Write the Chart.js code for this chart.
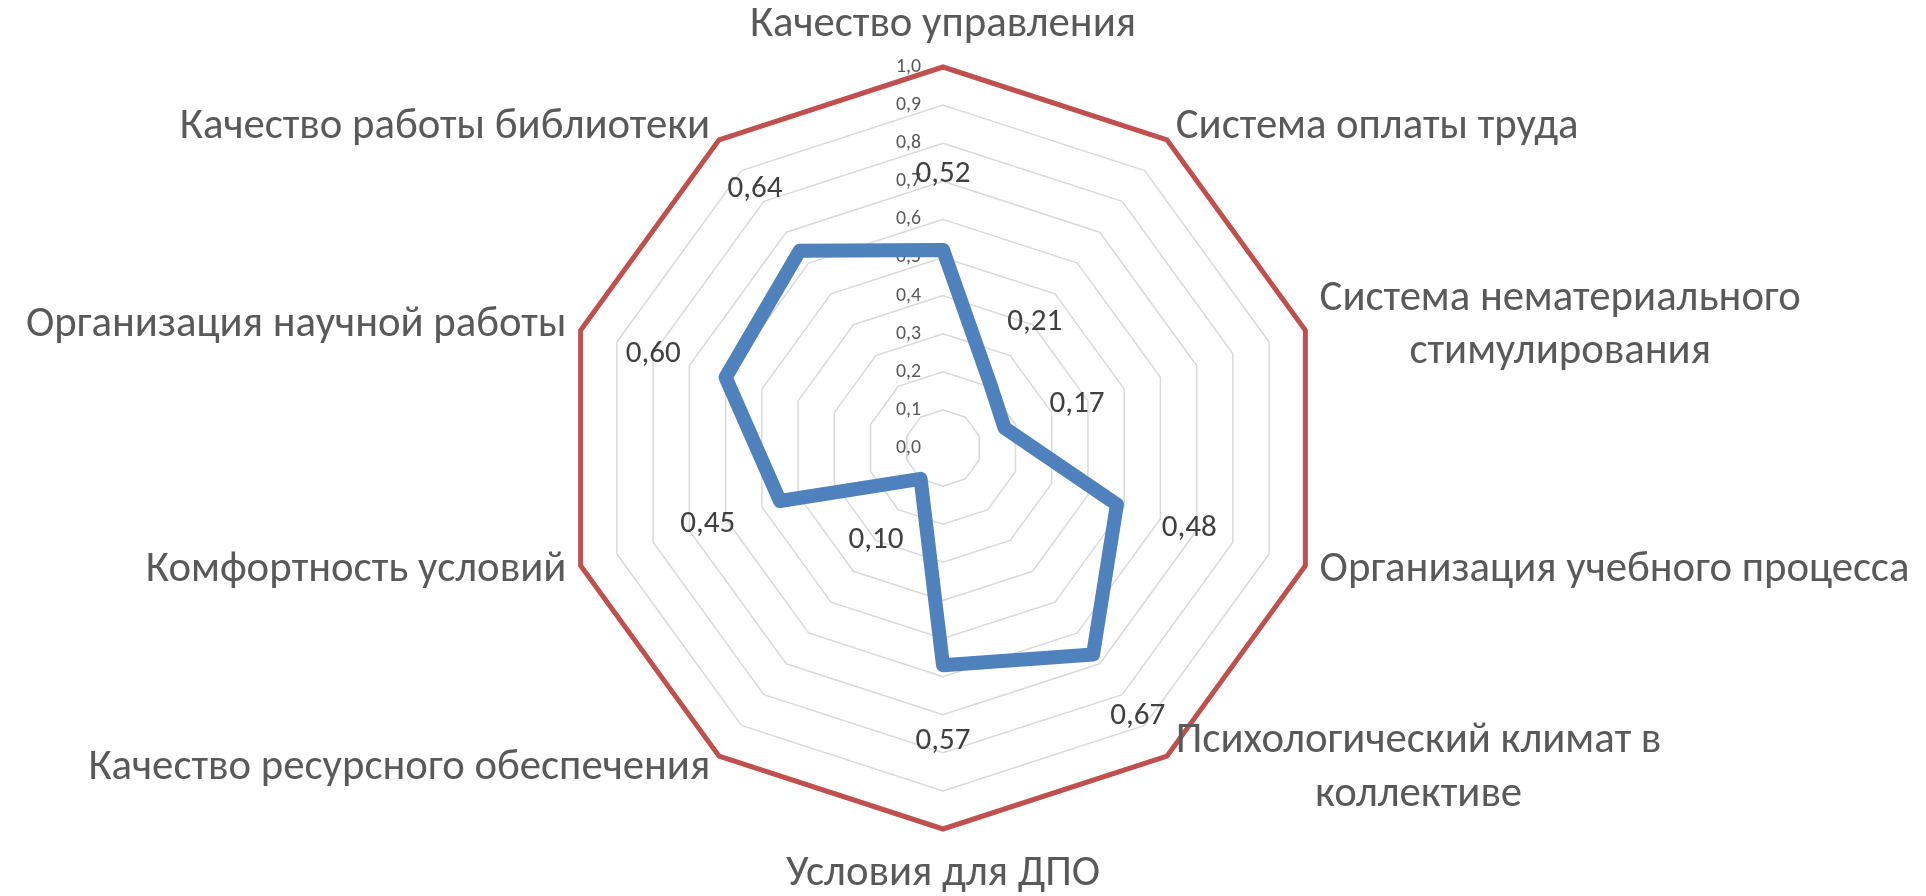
<!DOCTYPE html>
<html>
<head>
<meta charset="utf-8">
<script src="https://cdn.jsdelivr.net/npm/chart.js@4.4.1/dist/chart.umd.min.js"></script>
<style>
html,body{margin:0;padding:0;background:#fff;}
#wrap{width:1926px;height:896px;position:relative;}
canvas{display:block;}
</style>
</head>
<body>
<div id="wrap"><canvas id="c" width="1926" height="896"></canvas></div>
<script>
// ---- data ----
const categories = [
  ['Качество управления'],
  ['Система оплаты труда'],
  ['Система нематериального', 'стимулирования'],
  ['Организация учебного процесса'],
  ['Психологический климат в', 'коллективе'],
  ['Условия для ДПО'],
  ['Качество ресурсного обеспечения'],
  ['Комфортность условий'],
  ['Организация научной работы'],
  ['Качество работы библиотеки']
];
const scoreValues = [0.52, 0.21, 0.17, 0.48, 0.67, 0.57, 0.10, 0.45, 0.60, 0.64];
const maxValues   = [1, 1, 1, 1, 1, 1, 1, 1, 1, 1];
const tickValues  = [0, 0.1, 0.2, 0.3, 0.4, 0.5, 0.6, 0.7, 0.8, 0.9, 1.0];
const tickLabels  = ['0,0','0,1','0,2','0,3','0,4','0,5','0,6','0,7','0,8','0,9','1,0'];
const scoreLabels = ['0,52','0,21','0,17','0,48','0,67','0,57','0,10','0,45','0,60','0,64'];

// ---- fonts (fit to reference text widths) ----
const FAMILY = 'Carlito, Calibri, Lato, "Open Sans", sans-serif';
const mctx = document.createElement('canvas').getContext('2d');
function fitSize(text, targetW) {
  mctx.font = '40px ' + FAMILY;
  return 40 * targetW / mctx.measureText(text).width;
}
const catSize  = fitSize('Организация учебного процесса', 590);
const dataSize = fitSize('0,48', 55);
const tickSize = fitSize('1,0', 25);

const textPlugin = {
  id: 'textPlugin',
  beforeDatasetsDraw(chart) {
    const s = chart.scales.r, ctx = chart.ctx;
    ctx.save();
    ctx.font = tickSize + 'px ' + FAMILY;
    ctx.fillStyle = '#595959';
    ctx.textAlign = 'right';
    ctx.textBaseline = 'middle';
    tickValues.forEach((v, i) => {
      const p = s.getPointPosition(0, s.getDistanceFromCenterForValue(v));
      ctx.fillText(tickLabels[i], p.x - 22, p.y);
    });
    ctx.restore();
  },
  afterDatasetsDraw(chart) {
    const s = chart.scales.r, ctx = chart.ctx;
    ctx.save();
    // data labels
    ctx.font = dataSize + 'px ' + FAMILY;
    ctx.fillStyle = '#404040';
    ctx.textAlign = 'center';
    ctx.textBaseline = 'middle';
    scoreValues.forEach((v, i) => {
      const p = s.getPointPosition(i, s.getDistanceFromCenterForValue(v) + 76);
      ctx.fillText(scoreLabels[i], p.x, p.y);
    });
    // category labels
    ctx.font = catSize + 'px ' + FAMILY;
    ctx.fillStyle = '#595959';
    ctx.textBaseline = 'middle';
    const lh = catSize * 1.25;
    categories.forEach((lines, i) => {
      const p = s.getPointPosition(i, s.drawingArea + 15);
      const dx = p.x - s.xCenter;
      const widths = lines.map(t => ctx.measureText(t).width);
      const bw = Math.max(...widths);
      const bh = lines.length * lh;
      let left;
      if (Math.abs(dx) < 1) left = p.x - bw / 2;
      else if (dx > 0) left = p.x;
      else left = p.x - bw;
      let top;
      const dy = p.y - s.yCenter;
      if (Math.abs(dx) < 1 && dy < 0) top = p.y - bh;
      else if (Math.abs(dx) < 1 && dy > 0) top = p.y + 4;
      else top = p.y - bh / 2;
      lines.forEach((t, k) => {
        ctx.textAlign = 'center';
        ctx.fillText(t, left + bw / 2, top + lh * (k + 0.5));
      });
    });
    ctx.restore();
  }
};

new Chart(document.getElementById('c'), {
  type: 'radar',
  data: {
    labels: categories,
    datasets: [
      {
        label: 'Оценка',
        data: scoreValues,
        borderColor: '#4F81BD',
        backgroundColor: 'rgba(0,0,0,0)',
        borderWidth: 14,
        borderJoinStyle: 'round',
        pointRadius: 0,
        pointHoverRadius: 0,
        fill: false
      },
      {
        label: 'Максимум',
        data: maxValues,
        borderColor: '#C0504D',
        backgroundColor: 'rgba(0,0,0,0)',
        borderWidth: 5,
        borderJoinStyle: 'miter',
        pointRadius: 0,
        pointHoverRadius: 0,
        fill: false
      }
    ]
  },
  options: {
    responsive: false,
    devicePixelRatio: 1,
    animation: false,
    layout: { padding: { left: 562, right: 602, top: 67, bottom: 67 } },
    plugins: { legend: { display: false }, tooltip: { enabled: false } },
    scales: {
      r: {
        min: 0,
        max: 1,
        ticks: { stepSize: 0.1, display: false },
        grid: { color: '#D9D9D9', lineWidth: 1.5, circular: false },
        angleLines: { display: false },
        pointLabels: { display: false }
      }
    }
  },
  plugins: [textPlugin]
});
</script>
</body>
</html>
